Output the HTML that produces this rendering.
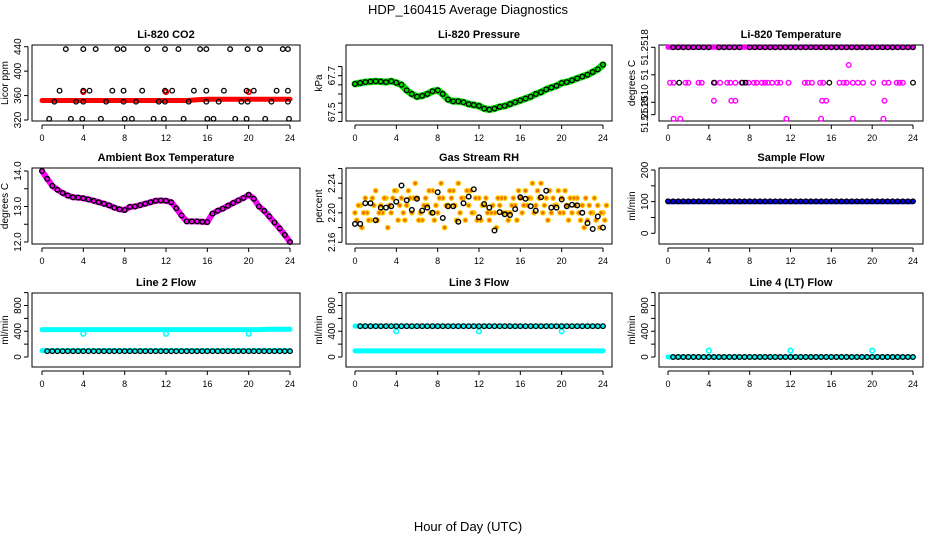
<!DOCTYPE html>
<html><head><meta charset="utf-8"><title>HDP_160415 Average Diagnostics</title>
<style>html,body{margin:0;padding:0;background:#fff}svg{display:block;font-family:"Liberation Sans",sans-serif}</style></head>
<body>
<svg id="chart" width="936" height="540" viewBox="0 0 936 540" xmlns="http://www.w3.org/2000/svg">
<rect width="936" height="540" fill="#fff"/>
<text x="468" y="14" text-anchor="middle" font-size="13">HDP_160415  Average Diagnostics</text>
<text x="468" y="531" text-anchor="middle" font-size="13">Hour of Day (UTC)</text>
</svg>
<script>
// ---- data ----
const xTicks = [0,4,8,12,16,20,24];
const hourly = [0,1,2,3,4,5,6,7,8,9,10,11,12,13,14,15,16,17,18,19,20,21,22,23,24];
const halfHours = [0,0.5,1,1.5,2,2.5,3,3.5,4,4.5,5,5.5,6,6.5,7,7.5,8,8.5,9,9.5,10,10.5,11,11.5,12,12.5,13,13.5,14,14.5,15,15.5,16,16.5,17,17.5,18,18.5,19,19.5,20,20.5,21,21.5,22,22.5,23,23.5,24];

// CO2
const co2Red = [352,352,352,352,352,352,352,352,352,352,352,352,352,352,352,353,354,354,354,354,354,354,354,354,354];
const co2RedOutT = [4,12,20];
const co2RedOutV = [366,366,366];
const co2BlkT = [2.3,4.0,5.2,7.3,7.9,10.2,11.9,13.2,15.3,15.9,18.2,19.9,21.1,23.3,23.8, 1.7,4.0,4.6,6.8,7.9,9.7,11.9,12.6,14.7,15.9,17.6,19.8,20.5,22.7,23.8, 1.2,3.3,4.0,6.2,7.9,9.1,11.3,11.9,14.2,15.9,17.1,19.3,19.9,22.2,23.8, 0.7,2.8,3.9,5.7,8.0,8.7,10.8,11.8,13.7,16.0,16.6,18.7,19.8,21.6,23.9];
const co2BlkV = [436,436,436,436,436,436,436,436,436,436,436,436,436,436,436, 368,368,368,368,368,368,368,368,368,368,368,368,368,368,368, 350,350,350,350,350,350,350,350,350,350,350,350,350,350,350, 322,322,322,322,322,322,322,322,322,322,322,322,322,322,322];

// Pressure
const pressure = [67.655,67.66,67.665,67.668,67.67,67.668,67.665,67.67,67.662,67.65,67.62,67.6,67.585,67.59,67.6,67.615,67.62,67.6,67.57,67.56,67.56,67.555,67.545,67.54,67.535,67.52,67.515,67.52,67.53,67.535,67.545,67.555,67.565,67.575,67.585,67.6,67.61,67.625,67.635,67.645,67.66,67.665,67.675,67.685,67.695,67.705,67.72,67.735,67.76];

// Li-820 temperature
const liTopMag = [51.2518,51.2518,51.2518,51.2518,51.2518,51.2518,51.2518,51.2518,51.2518,51.2518,51.2518,51.2518,51.2518,51.2518,51.2518,51.2518,51.2518,51.2518,51.2518,51.2518,51.2518,51.2518,51.2518,51.2518,51.2518];
const liMagT = [0.2,0.55,1.7,2.0,3.0,3.3,4.6,5.1,5.8,6.1,6.6,7.2,7.9,8.4,8.7,9.2,9.5,9.8,10.2,10.7,11.0,11.8,13.4,13.7,14.1,14.9,15.2,16.8,17.2,17.5,18.1,18.6,19.1,20.1,21.2,21.6,22.4,22.7,23.0, 4.5,6.2,6.6,15.1,15.5,21.2, 0.55,1.2,11.6,15.0,18.1,21.1, 17.7];
const liMagV = [51.251285,51.251285,51.251285,51.251285,51.251285,51.251285,51.251285,51.251285,51.251285,51.251285,51.251285,51.251285,51.251285,51.251285,51.251285,51.251285,51.251285,51.251285,51.251285,51.251285,51.251285,51.251285,51.251285,51.251285,51.251285,51.251285,51.251285,51.251285,51.251285,51.251285,51.251285,51.251285,51.251285,51.251285,51.251285,51.251285,51.251285,51.251285,51.251285, 51.251023,51.251023,51.251023,51.251023,51.251023,51.251023, 51.250761,51.250761,51.250761,51.250761,51.250761,51.250761, 51.251543];
const liBlkT = [0.5,1,1.5,2,2.5,3,3.5,4,5,5.5,6,6.5,7,8,8.5,9,9.5,10,10.5,11,11.5,12,12.5,13,13.5,14,14.5,15,15.5,16,16.5,17,17.5,18,18.5,19,19.5,20,20.5,21,21.5,22,22.5,23,23.5,24, 1.1,4.5,7.3,7.6,15.8,24];
const liBlkV = [51.2518,51.2518,51.2518,51.2518,51.2518,51.2518,51.2518,51.2518,51.2518,51.2518,51.2518,51.2518,51.2518,51.2518,51.2518,51.2518,51.2518,51.2518,51.2518,51.2518,51.2518,51.2518,51.2518,51.2518,51.2518,51.2518,51.2518,51.2518,51.2518,51.2518,51.2518,51.2518,51.2518,51.2518,51.2518,51.2518,51.2518,51.2518,51.2518,51.2518,51.2518,51.2518,51.2518,51.2518,51.2518,51.2518, 51.251285,51.251285,51.251285,51.251285,51.251285,51.251285];

// Ambient box temperature
const ambient = [14.0,13.78,13.58,13.47,13.38,13.31,13.26,13.25,13.23,13.2,13.16,13.12,13.08,13.03,12.97,12.92,12.9,12.99,13.0,13.04,13.08,13.12,13.16,13.17,13.16,13.12,12.95,12.75,12.58,12.58,12.58,12.57,12.56,12.8,12.88,12.94,13.02,13.1,13.17,13.24,13.33,13.22,13.0,12.88,12.72,12.55,12.38,12.2,12.0];

// Gas stream RH
const rhA = [2.20,2.21,2.22,2.19,2.23,2.21,2.22,2.20,2.23,2.22,2.21,2.20,2.22,2.19,2.21,2.23,2.20,2.22,2.21,2.23,2.24,2.22,2.21,2.20,2.22,2.21,2.19,2.20,2.21,2.22,2.20,2.21,2.22,2.23,2.22,2.21,2.24,2.22,2.20,2.21,2.22,2.21,2.20,2.22,2.21,2.19,2.20,2.21,2.20];
const rhB = [2.19,2.18,2.20,2.22,2.19,2.20,2.18,2.22,2.19,2.20,2.23,2.22,2.19,2.21,2.23,2.19,2.22,2.18,2.23,2.21,2.20,2.19,2.23,2.22,2.19,2.22,2.20,2.18,2.22,2.20,2.21,2.19,2.20,2.21,2.24,2.23,2.20,2.19,2.22,2.23,2.20,2.19,2.22,2.20,2.18,2.21,2.22,2.18,2.19];
const rhC = [2.21,2.20,2.19,2.21,2.20,2.22,2.21,2.23,2.21,2.19,2.22,2.24,2.20,2.22,2.20,2.21,2.24,2.21,2.22,2.19,2.22,2.23,2.20,2.19,2.21,2.20,2.21,2.22,2.20,2.19,2.22,2.23,2.21,2.22,2.20,2.22,2.21,2.23,2.21,2.20,2.23,2.22,2.21,2.19,2.22,2.20,2.19,2.20,2.21];
const rhBlk = [2.185,2.185,2.213,2.213,2.19,2.207,2.207,2.209,2.215,2.237,2.217,2.204,2.219,2.203,2.207,2.20,2.228,2.193,2.209,2.209,2.188,2.213,2.222,2.232,2.194,2.212,2.207,2.176,2.201,2.198,2.197,2.205,2.221,2.219,2.209,2.203,2.221,2.23,2.207,2.207,2.218,2.209,2.211,2.21,2.20,2.186,2.178,2.195,2.18];

// Flows
const sampleBlue = [100,100,100,100,100,100,100,100,100,100,100,100,100,100,100,100,100,100,100,100,100,100,100,100,100];
const sampleBlk = [101,101,101,101,101,101,101,101,101,101,101,101,101,101,101,101,101,101,101,101,101,101,101,101,101];
const l2CyanHi = [426,426,426,426,426,426,426,426,426,426,426,426,426,426,426,426,426,426,426,426,426,426,430,430,430];
const l2CyanLo = [100,100,100,100,100,100,100,100,100,100,100,100,100,100,100,100,100,100,100,100,100,100,100,100,100];
const l2Blk = [90,90,90,90,90,90,90,90,90,90,90,90,90,90,90,90,90,90,90,90,90,90,90,90,90];
const l2OutT = [4,12,20]; const l2OutV = [360,360,360];
const l3CyanHi = [480,480,480,480,480,480,480,480,480,480,480,480,480,480,480,480,480,480,480,480,480,480,480,480,480];
const l3CyanLo = [95,95,95,95,95,95,95,95,95,95,95,95,95,95,95,95,95,95,95,95,95,95,95,95,95];
const l3Blk = [478,478,478,478,478,478,478,478,478,478,478,478,478,478,478,478,478,478,478,478,478,478,478,478,478];
const l3OutT = [4,12,20]; const l3OutV = [400,400,400];
const l4Cyan = [0,0,0,0,0,0,0,0,0,0,0,0,0,0,0,0,0,0,0,0,0,0,0,0,0];
const l4Blk = [0,0,0,0,0,0,0,0,0,0,0,0,0,0,0,0,0,0,0,0,0,0,0,0,0];
const l4OutT = [4,12,20]; const l4OutV = [100,100,100];

// ---- drawing ----
const NS = "http://www.w3.org/2000/svg";
const svg = document.getElementById('chart');
function mk(tag, attrs, parent){
  const e = document.createElementNS(NS, tag);
  for (const k in attrs) e.setAttribute(k, attrs[k]);
  (parent||svg).appendChild(e);
  return e;
}
const rows = [{t:45,b:121},{t:168,b:244},{t:293,b:367}];
const cols = [{l:32,r:300,x0:42,x1:290,ax:28},{l:346,r:612,x0:355,x1:603,ax:342},{l:659,r:923,x0:668,x1:913,ax:655}];

function panel(ri, ci, name, title, ytitle, v1, p1, v2, p2, yt, yl){
  const R = rows[ri], C = cols[ci];
  const g = mk('g', {});
  
  
  const xs = h => C.x0 + (C.x1 - C.x0) * h / 24;
  const ys = v => p1 + (v - v1) * (p2 - p1) / (v2 - v1);
  const box = mk('rect', {x:C.l, y:R.t, width:C.r-C.l, height:R.b-R.t, fill:'none', stroke:'#000', 'stroke-width':1}, g);
  
  
  const tt = mk('text', {x:(C.l+C.r)/2, y:R.t-7, 'text-anchor':'middle', 'font-size':11, 'font-weight':'bold'}, g);
  tt.textContent = title;
  
  
  // x axis
  const xa = mk('g', {}, g);
  
  
  const ay = R.b + 4;
  mk('line', {x1:xs(0), x2:xs(24), y1:ay, y2:ay, stroke:'#000'}, xa);
  xTicks.forEach(t => {
    mk('line', {x1:xs(t), x2:xs(t), y1:ay, y2:ay+4, stroke:'#000'}, xa);
    const lb = mk('text', {x:xs(t), y:ay+16, 'text-anchor':'middle', 'font-size':9}, xa);
    lb.textContent = t;
    
    
  });
  // y axis
  const ya = mk('g', {}, g);
  
  
  mk('line', {x1:C.ax, x2:C.ax, y1:ys(yt[0]), y2:ys(yt[yt.length-1]), stroke:'#000'}, ya);
  yt.forEach((t,i) => {
    const y = ys(t);
    mk('line', {x1:C.ax-4, x2:C.ax, y1:y, y2:y, stroke:'#000'}, ya);
    if (yl[i] !== '') {
      const lb = mk('text', {x:C.ax-7, y:y, 'text-anchor':'middle', 'font-size':10, transform:`rotate(-90 ${C.ax-7} ${y})`}, ya);
      lb.textContent = yl[i];
      
      
    }
  });
  const yc = (R.t + R.b)/2, yx = C.ax - 20;
  const yti = mk('text', {x:yx, y:yc, 'text-anchor':'middle', 'font-size':10, transform:`rotate(-90 ${yx} ${yc})`}, g);
  yti.textContent = ytitle;
  
  
  return {g, xs, ys};
}
function band(P, name, times, vals, color, w){
  const d = times.map((t,i) => (i?'L':'M') + P.xs(t).toFixed(1) + ' ' + P.ys(vals[i]).toFixed(1)).join(' ');
  const p = mk('path', {d, fill:'none', stroke:color, 'stroke-width':w, 'stroke-linejoin':'round', 'stroke-linecap':'round'}, P.g);
  
  
}
function pts(P, name, times, vals, color, r, sw, fill){
  const g = mk('g', {}, P.g);
  
  
  times.forEach((t,i) => {
    mk('circle', {cx:P.xs(t).toFixed(1), cy:P.ys(vals[i]).toFixed(1), r, fill:fill||'none', stroke:color, 'stroke-width':sw}, g);
  });
}
const offset = (arr, d) => arr.map(t => t + d);

// Panel 1: CO2
let P = panel(0,0,'co2','Li-820 CO2','Licor ppm',440,46.7,320,120,[320,360,400,440],['320','360','400','440']);
band(P,'co2-series-red',hourly,co2Red,'#f00',5);
pts(P,'co2-red-outliers',co2RedOutT,co2RedOutV,'#f00',2.3,1.8);
pts(P,'co2-black-points',co2BlkT,co2BlkV,'#000',2.3,1.3);

// Panel 2: Pressure
P = panel(0,1,'pressure','Li-820 Pressure','kPa',67.7,75.7,67.5,112.3,[67.45,67.5,67.55,67.6,67.65,67.7,67.75],['','67.5','','','','67.7','']);
band(P,'pressure-series-green',halfHours,pressure,'#00e000',7);
pts(P,'pressure-black-points',halfHours,pressure,'#000',2.3,1.3);

// Panel 3: Li-820 temperature
P = panel(0,2,'li-temp','Li-820 Temperature','degrees C',51.2518,47.3,51.2510,102.3,[51.2518,51.2514,51.2510,51.25082],['51.2518','51','51.2510','51.2510']);
band(P,'li-temp-magenta-top',hourly,liTopMag,'#ff00ff',5);
pts(P,'li-temp-magenta-points',liMagT,liMagV,'#ff00ff',2.3,1.4);
pts(P,'li-temp-black-points',liBlkT,liBlkV,'#000',2.3,1.3);

// Panel 4: Ambient
P = panel(1,0,'ambient-temp','Ambient Box Temperature','degrees C',14,171,12,242,[12,12.5,13,13.5,14],['12.0','','13.0','','14.0']);
band(P,'ambient-magenta-series',halfHours,ambient,'#ff00ff',6);
pts(P,'ambient-black-points',halfHours,ambient,'#000',2.3,1.4);

// Panel 5: RH
P = panel(1,1,'gas-rh','Gas Stream RH','percent',2.24,183.3,2.16,242.3,[2.16,2.18,2.2,2.22,2.24,2.26],['2.16','','2.20','','2.24','']);
pts(P,'rh-orange-a',halfHours,rhA,'#ffcc00',2.2,1.3,'#ee6a00');
pts(P,'rh-orange-b',offset(halfHours,0.17),rhB,'#ffcc00',2.2,1.3,'#ee6a00');
pts(P,'rh-orange-c',offset(halfHours,0.33),rhC,'#ffcc00',2.2,1.3,'#ee6a00');
pts(P,'rh-black-points',halfHours,rhBlk,'#000',2.3,1.4);

// Panel 6: Sample flow
P = panel(1,2,'sample-flow','Sample Flow','ml/min',0,233.3,200,170,[0,50,100,150,200],['0','','100','','200']);
band(P,'sample-flow-blue',hourly,sampleBlue,'#0000ff',5);
pts(P,'sample-flow-black-points',halfHours.map(h=>h),halfHours.map((h,i)=>sampleBlk[Math.floor(i/2)]),'#000',2.3,1.3);

// Panel 7: Line 2 flow
const flowT = [0,200,400,600,800,1000], flowL = ['0','','400','','800',''];
P = panel(2,0,'line2-flow','Line 2 Flow','ml/min',0,357,800,305.5,flowT,flowL);
band(P,'line2-cyan-high',hourly,l2CyanHi,'#00ffff',5);
band(P,'line2-cyan-low',hourly,l2CyanLo,'#00ffff',5);
pts(P,'line2-cyan-outliers',l2OutT,l2OutV,'#00ffff',2.3,1.6);
pts(P,'line2-black-points',offset(halfHours,0.5).slice(0,48),halfHours.slice(0,48).map((h,i)=>l2Blk[Math.floor(i/2)]),'#000',2.3,1.3);

// Panel 8: Line 3 flow
P = panel(2,1,'line3-flow','Line 3 Flow','ml/min',0,357,800,305.5,flowT,flowL);
band(P,'line3-cyan-high',hourly,l3CyanHi,'#00ffff',5);
band(P,'line3-cyan-low',hourly,l3CyanLo,'#00ffff',5);
pts(P,'line3-cyan-outliers',l3OutT,l3OutV,'#00ffff',2.3,1.6);
pts(P,'line3-black-points',offset(halfHours,0.5).slice(0,48),halfHours.slice(0,48).map((h,i)=>l3Blk[Math.floor(i/2)]),'#000',2.3,1.3);

// Panel 9: Line 4 flow
P = panel(2,2,'line4-flow','Line 4 (LT) Flow','ml/min',0,357,800,305.5,flowT,flowL);
band(P,'line4-cyan',hourly,l4Cyan,'#00ffff',5);
pts(P,'line4-cyan-outliers',l4OutT,l4OutV,'#00ffff',2.3,1.6);
pts(P,'line4-black-points',offset(halfHours,0.5).slice(0,48),halfHours.slice(0,48).map((h,i)=>l4Blk[Math.floor(i/2)]),'#000',2.3,1.3);
</script>
</body></html>
